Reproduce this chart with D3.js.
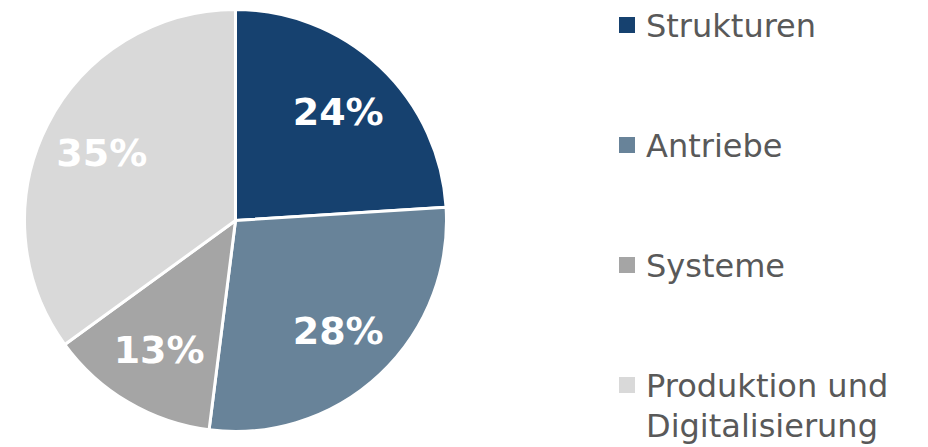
<!DOCTYPE html>
<html>
<head>
<meta charset="utf-8">
<script src="https://cdn.jsdelivr.net/npm/d3@7"></script>
<style>
  html, body { margin: 0; padding: 0; background: #ffffff; }
  svg { display: block; }
</style>
</head>
<body>
<svg id="chart" width="928" height="447"></svg>
<script>
// Anteile der Themenfelder
const categories = ["Strukturen", "Antriebe", "Systeme", "Produktion und Digitalisierung"];
const legendLines = [["Strukturen"], ["Antriebe"], ["Systeme"], ["Produktion und", "Digitalisierung"]];
const shares = [24, 28, 13, 35];
const colors = ["#16416f", "#688399", "#a5a5a5", "#d9d9d9"];

const svg = d3.select("#chart");
const cx = 235.5, cy = 220.5, radius = 211;
const font = "'DejaVu Sans', sans-serif";

const pie = d3.pie().sort(null).value(d => d.value);
const arcs = pie(categories.map((c, i) => ({ name: c, value: shares[i], color: colors[i] })));
const arc = d3.arc().innerRadius(0).outerRadius(radius);
const labelArc = d3.arc().innerRadius(150).outerRadius(150);

const g = svg.append("g").attr("transform", `translate(${cx},${cy})`);

g.selectAll("path")
  .data(arcs)
  .join("path")
  .attr("d", arc)
  .attr("fill", d => d.data.color)
  .attr("stroke", "#ffffff")
  .attr("stroke-width", 3)
  .attr("stroke-linejoin", "round");

// Prozentwerte in den Segmenten
g.selectAll("text.value")
  .data(arcs)
  .join("text")
  .attr("class", "value")
  .attr("transform", d => `translate(${labelArc.centroid(d)})`)
  .attr("text-anchor", "middle")
  .attr("dy", "0.36em")
  .attr("fill", "#ffffff")
  .attr("font-family", font)
  .attr("font-weight", 700)
  .attr("font-size", 38)
  .text(d => d.data.value + "%");

// Legende
const legend = svg.append("g");
const rowY = d3.scalePoint().domain(categories).range([25, 385]);

const items = legend.selectAll("g")
  .data(categories)
  .join("g")
  .attr("transform", d => `translate(619,${rowY(d)})`);

items.append("rect")
  .attr("x", 0)
  .attr("y", -8)
  .attr("width", 16)
  .attr("height", 16)
  .attr("fill", (d, i) => colors[i]);

items.append("text")
  .attr("x", 27)
  .attr("y", 11.5)
  .attr("fill", "#595959")
  .attr("font-family", font)
  .attr("font-size", 32)
  .selectAll("tspan")
  .data((d, i) => legendLines[i])
  .join("tspan")
  .attr("x", 27)
  .attr("dy", (d, j) => j === 0 ? 0 : 40)
  .text(d => d);
</script>
</body>
</html>
